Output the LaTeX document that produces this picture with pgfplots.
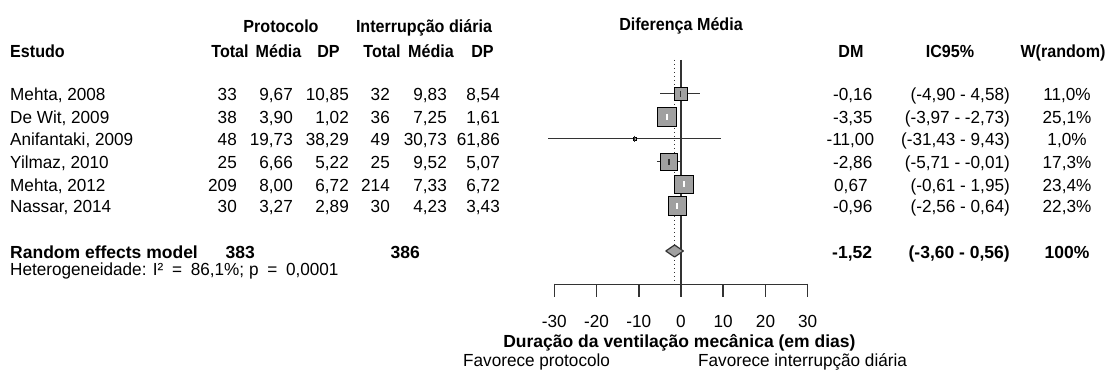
\documentclass[border=0pt]{standalone}
\usepackage{pgfplots}
\pgfplotsset{compat=1.18}
\usepackage{fontspec}
\setmainfont{Liberation Sans}[FakeStretch=0.98,BoldFeatures={FakeStretch=1.0}]
\newfontfamily\hdr{Liberation Sans}[FakeStretch=0.92]
\definecolor{sq}{HTML}{A0A0A0}
\definecolor{ln}{HTML}{333333}
\begin{document}
\fontsize{17.5}{21}\selectfont
\begin{tikzpicture}[x=1pt,y=1pt,every node/.style={inner sep=0pt},hd/.style={font=\hdr\bfseries}]
\path (0,0) rectangle (1117,381);
\begin{axis}[at={(554.3pt,0pt)},anchor=south west,scale only axis,
  width=253.4pt,height=381pt,xmin=-30,xmax=30,ymin=0,ymax=381,
  hide axis,clip=false]
% reference lines
\addplot[ln,line width=1.5pt] coordinates {(0,321) (0,96.7)};
\addplot[ln,line width=1.3pt,dash pattern=on 1.3pt off 2.7pt] coordinates {(-1.52,321) (-1.52,99)};
% axis
\addplot[ln,line width=1.5pt] coordinates {(-30,96.7) (30,96.7)};
\addplot[ln,line width=1.5pt] coordinates {(-30,97.4) (-30,84.3)};
\addplot[ln,line width=1.5pt] coordinates {(-20,96.7) (-20,84.3)};
\addplot[ln,line width=1.5pt] coordinates {(-10,96.7) (-10,84.3)};
\addplot[ln,line width=1.5pt] coordinates {(0,96.7) (0,84.3)};
\addplot[ln,line width=1.5pt] coordinates {(10,96.7) (10,84.3)};
\addplot[ln,line width=1.5pt] coordinates {(20,96.7) (20,84.3)};
\addplot[ln,line width=1.5pt] coordinates {(30,97.4) (30,84.3)};
% Mehta 2008
\addplot[only marks,mark=square*,mark size=6.5pt,mark options={draw=none,fill=sq}] coordinates {(-0.16,287.3)};
\addplot[ln,line width=1.4pt] coordinates {(-4.90,287.3) (4.58,287.3)};
\addplot[only marks,mark=|,mark size=3pt,mark options={draw=ln,line width=1.4pt}] coordinates {(-0.16,287.3)};
% De Wit 2009
\addplot[only marks,mark=square*,mark size=9.3pt,mark options={draw=none,fill=sq}] coordinates {(-3.35,264.3)};
\addplot[white,line width=1.4pt] coordinates {(-3.97,264.3) (-2.73,264.3)};
\addplot[only marks,mark=|,mark size=3pt,mark options={draw=white,line width=1.4pt}] coordinates {(-3.35,264.3)};
% Anifantaki 2009
\addplot[only marks,mark=square*,mark size=1.6pt,mark options={draw=none,fill=sq}] coordinates {(-11.00,242.3)};
\addplot[ln,line width=1.4pt] coordinates {(-31.43,242.3) (9.43,242.3)};
\addplot[only marks,mark=|,mark size=3pt,mark options={draw=ln,line width=1.4pt}] coordinates {(-11.00,242.3)};
% Yilmaz 2010
\addplot[only marks,mark=square*,mark size=8.3pt,mark options={draw=none,fill=sq}] coordinates {(-2.86,219.3)};
\addplot[ln,line width=1.4pt] coordinates {(-5.71,219.3) (-0.01,219.3)};
\addplot[only marks,mark=|,mark size=3pt,mark options={draw=ln,line width=1.4pt}] coordinates {(-2.86,219.3)};
% Mehta 2012
\addplot[only marks,mark=square*,mark size=9.2pt,mark options={draw=none,fill=sq}] coordinates {(0.67,196.8)};
\addplot[white,line width=1.4pt] coordinates {(-0.61,196.8) (1.95,196.8)};
\addplot[only marks,mark=|,mark size=3pt,mark options={draw=white,line width=1.4pt}] coordinates {(0.67,196.8)};
% Nassar 2014
\addplot[only marks,mark=square*,mark size=9.2pt,mark options={draw=none,fill=sq}] coordinates {(-0.96,175.2)};
\addplot[white,line width=1.4pt] coordinates {(-2.56,175.2) (0.64,175.2)};
\addplot[only marks,mark=|,mark size=3pt,mark options={draw=white,line width=1.4pt}] coordinates {(-0.96,175.2)};
% pooled diamond
\addplot[draw=ln,fill=sq,line width=1.2pt,line join=round] coordinates {(-3.60,130) (-1.52,136) (0.56,130) (-1.52,124) (-3.60,130)};
\end{axis}
% header
\node[anchor=base,hd] at (281,348) {Protocolo};
\node[anchor=base,hd] at (424,348) {Interrupção diária};
\node[anchor=base,hd] at (681,350) {Diferença Média};
\node[anchor=base west,hd] at (10,323.7) {Estudo};
\node[anchor=base,hd] at (230,323.7) {Total};
\node[anchor=base,hd] at (278.5,323.7) {Média};
\node[anchor=base,hd] at (328.5,323.7) {DP};
\node[anchor=base,hd] at (382,323.7) {Total};
\node[anchor=base,hd] at (431,323.7) {Média};
\node[anchor=base,hd] at (482.5,323.7) {DP};
\node[anchor=base,hd] at (851,323.7) {DM};
\node[anchor=base,hd] at (950,323.7) {IC95\%};
\node[anchor=base,hd] at (1063,323.7) {W(random)};
% rows
\foreach \y/\s/\pt/\pm/\ps/\it/\im/\is/\dm/\dx/\ic/\w in {
 280.3/{Mehta, 2008}/33/{9,67}/{10,85}/32/{9,83}/{8,54}/{-0,16}/833/{(-4,90 - 4,58)}/{11,0\%},
 257.3/{De Wit, 2009}/38/{3,90}/{1,02}/36/{7,25}/{1,61}/{-3,35}/833/{(-3,97 - -2,73)}/{25,1\%},
 235.3/{Anifantaki, 2009}/48/{19,73}/{38,29}/49/{30,73}/{61,86}/{-11,00}/826.5/{(-31,43 - 9,43)}/{1,0\%},
 212.3/{Yilmaz, 2010}/25/{6,66}/{5,22}/25/{9,52}/{5,07}/{-2,86}/833/{(-5,71 - -0,01)}/{17,3\%},
 189.8/{Mehta, 2012}/209/{8,00}/{6,72}/214/{7,33}/{6,72}/{0,67}/834/{(-0,61 - 1,95)}/{23,4\%},
 168.2/{Nassar, 2014}/30/{3,27}/{2,89}/30/{4,23}/{3,43}/{-0,96}/833/{(-2,56 - 0,64)}/{22,3\%}}{
 \node[anchor=base west] at (10,\y) {\s};
 \node[anchor=base east] at (237,\y) {\pt};
 \node[anchor=base east] at (293,\y) {\pm};
 \node[anchor=base east] at (349,\y) {\ps};
 \node[anchor=base east] at (390,\y) {\it};
 \node[anchor=base east] at (447,\y) {\im};
 \node[anchor=base east] at (500,\y) {\is};
 \node[anchor=base west] at (\dx,\y) {\dm};
 \node[anchor=base east] at (1010,\y) {\ic};
 \node[anchor=base] at (1067,\y) {\w};
}
% pooled row
\node[anchor=base west,font=\bfseries] at (10,122.7) {Random effects model};
\node[anchor=base east,font=\bfseries] at (255,122.7) {383};
\node[anchor=base east,font=\bfseries] at (420,122.7) {386};
\node[anchor=base west,font=\bfseries] at (832,122.7) {-1,52};
\node[anchor=base east,font=\bfseries] at (1010,122.7) {(-3,60 - 0,56)};
\node[anchor=base,font=\bfseries] at (1067,122.7) {100\%};
\node[anchor=base west] at (10,106) {Heterogeneidade: I²\enspace=\enspace86,1\%; p\enspace=\enspace0,0001};
% x axis labels
\foreach \v/\t in {554.3/-30,596.5/-20,638.8/-10,681/0,723.2/10,765.5/20,807.7/30}
  \node[anchor=base] at (\v,54) {\t};
\node[anchor=base,font=\bfseries] at (679.4,34) {Duração da ventilação mecânica (em dias)};
\node[anchor=base west] at (463,14.3) {Favorece protocolo};
\node[anchor=base west] at (698,14.3) {Favorece interrupção diária};
\end{tikzpicture}
\end{document}
